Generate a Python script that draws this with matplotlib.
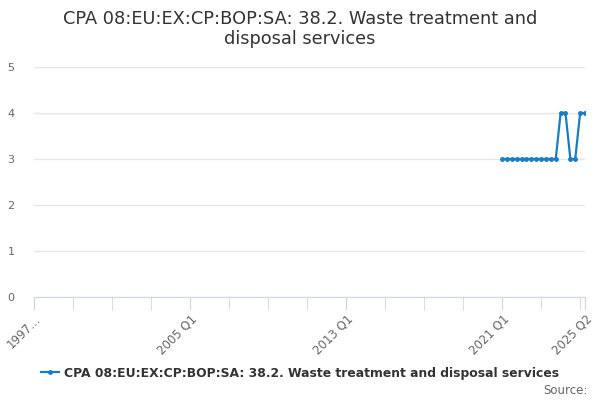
import numpy as np
import matplotlib
matplotlib.use("Agg")
import matplotlib.pyplot as plt

# quarterly categories 1997 Q1 .. 2025 Q2
quarters = [f"{y} Q{q}" for y in range(1997, 2026) for q in range(1, 5)][:114]

# data only exists from 2021 Q1 onward
data_start = "2021 Q1"
data_values = [3, 3, 3, 3, 3, 3, 3, 3, 3, 3, 3, 3, 4, 4, 3, 3, 4, 4]

tick_cats = ["1997 Q1", "2005 Q1", "2013 Q1", "2021 Q1", "2025 Q2"]
tick_text = ["1997…", "2005 Q1", "2013 Q1", "2021 Q1", "2025 Q2"]

title = "CPA 08:EU:EX:CP:BOP:SA: 38.2. Waste treatment and\ndisposal services"
series_name = "CPA 08:EU:EX:CP:BOP:SA: 38.2. Waste treatment and disposal services"

plt.rcParams['font.family'] = ['DejaVu Sans']

fig = plt.figure(figsize=(6, 4), dpi=100)
ax = fig.add_axes([34/600, 1 - 297/400, (585 - 34)/600, (297 - 67)/400])

x = np.arange(len(quarters))
vals = np.full(len(quarters), np.nan)
i0 = quarters.index(data_start)
vals[i0:i0 + len(data_values)] = data_values

line, = ax.plot(x, vals, color='#1a7dc4', lw=1.6, marker='o', ms=2.5, label=series_name)

ax.set_xlim(0, len(quarters) - 1)
ax.set_ylim(0, 5)
ax.set_yticks(range(0, 6))
ax.tick_params(axis='y', length=0, labelsize=8, labelcolor='#666666', pad=14)
ax.grid(axis='y', color='#e6e6e6', lw=1)
ax.set_axisbelow(True)

# minor ticks every 8 quarters, plus final
minor = list(range(0, len(quarters), 8)) + [len(quarters) - 1]
ax.set_xticks(minor, minor=True)
ax.set_xticks([quarters.index(c) for c in tick_cats])
ax.set_xticklabels(tick_text, rotation=45, ha='right', rotation_mode='anchor',
                   fontsize=8.5, color='#666666')
ax.tick_params(axis='x', which='both', length=9, color='#ccd6eb', pad=2)

for s in ['top', 'right', 'left']:
    ax.spines[s].set_visible(False)
ax.spines['bottom'].set_color('#ccd6eb')

fig.text(0.5, 1 - 29/400, title, ha='center', va='center', fontsize=12.8,
         color='#333333', linespacing=1.2)

leg = fig.legend(handles=[line], loc='center', bbox_to_anchor=(0.5, 1 - 373/400),
                 frameon=False, handlelength=1.5, handletextpad=0.4,
                 prop={'size': 8.9, 'weight': 'bold'})
for t in leg.get_texts():
    t.set_color('#333333')

fig.text(588/600, 1 - 390/400, "Source:", ha='right', va='center', fontsize=8.5,
         color='#666666')

fig.savefig("out.png", dpi=100)
